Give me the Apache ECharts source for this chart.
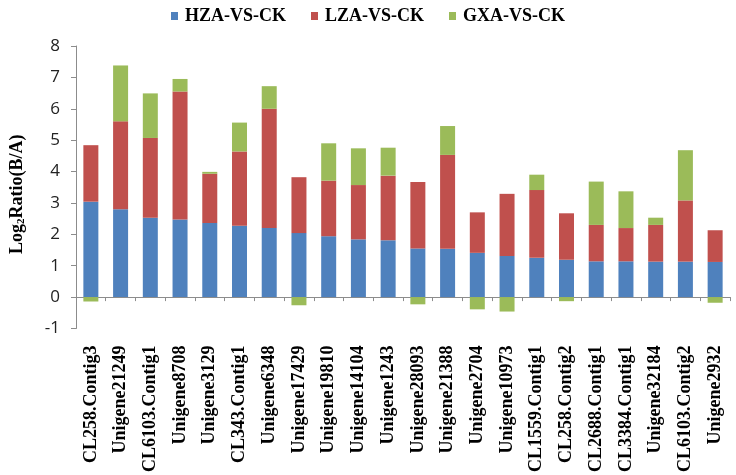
<!DOCTYPE html>
<html><head><meta charset="utf-8">
<script src="https://cdn.jsdelivr.net/npm/echarts@6/dist/echarts.min.js"></script>
<style>html,body{margin:0;padding:0;background:#fff}#c{width:736px;height:475px}</style>
</head><body><div id="c"></div>
<script>
var categories = ["CL258.Contig3","Unigene21249","CL6103.Contig1","Unigene8708","Unigene3129","CL343.Contig1","Unigene6348","Unigene17429","Unigene19810","Unigene14104","Unigene1243","Unigene28093","Unigene21388","Unigene2704","Unigene10973","CL1559.Contig1","CL258.Contig2","CL2688.Contig1","CL3384.Contig1","Unigene32184","CL6103.Contig2","Unigene2932"];
var hza = [3.04,2.8,2.53,2.47,2.36,2.27,2.2,2.04,1.94,1.84,1.81,1.55,1.54,1.41,1.31,1.25,1.19,1.14,1.14,1.13,1.13,1.12];
var lza = [1.8,2.8,2.54,4.08,1.57,2.37,3.8,1.78,1.77,1.73,2.06,2.12,2.99,1.29,1.98,2.16,1.48,1.16,1.06,1.17,1.95,1.01];
var gxa = [-0.14,1.78,1.42,0.4,0.06,0.92,0.72,-0.26,1.19,1.17,0.89,-0.23,0.92,-0.39,-0.46,0.49,-0.13,1.38,1.17,0.23,1.6,-0.18];
var seriesNames = ["HZA-VS-CK","LZA-VS-CK","GXA-VS-CK"];
var colors = ["#4F81BD","#C0504D","#9BBB59"];

var serif = "'Liberation Serif','Times New Roman',serif";
var chart = echarts.init(document.getElementById('c'), null, {renderer:'canvas'});
function mk(name, data, color){
  return {name:name, type:'bar', stack:'s', data:data, barWidth:15,
    itemStyle:{color:color}, animation:false};
}
chart.setOption({
  animation:false,
  color: colors,
  legend:{top:2, left:'center', itemWidth:7, itemHeight:8, itemGap:25,
    icon:'rect',
    textStyle:{fontFamily:serif, fontWeight:'bold', fontSize:18, color:'#000', padding:[0,0,0,2]},
    data:seriesNames},
  grid:{left:68, right:6, top:46, bottom:117},
  xAxis:{type:'category', data:categories,
    axisLine:{onZero:true, lineStyle:{color:'#8c8c8c', width:1}},
    axisTick:{show:true, length:4, lineStyle:{color:'#8c8c8c'}},
    axisLabel:{interval:0, rotate:90, margin:17, fontFamily:serif, fontWeight:'bold', fontSize:18, color:'#000'}},
  yAxis:{type:'value', min:-1, max:8, interval:1,
    name:'{a|Log}{s|2}{a|Ratio(B/A)}', nameLocation:'middle', nameGap:49, nameRotate:90,
    nameTextStyle:{padding:[0,14,0,0], rich:{
      a:{fontFamily:serif, fontWeight:'bold', fontSize:18, color:'#000', lineHeight:20},
      s:{fontFamily:serif, fontWeight:'bold', fontSize:11, color:'#000', verticalAlign:'bottom', lineHeight:8}
    }},
    splitLine:{show:false},
    axisLine:{show:true, lineStyle:{color:'#8c8c8c'}},
    axisTick:{show:true, inside:false, length:5, lineStyle:{color:'#8c8c8c'}},
    axisLabel:{margin:16, fontFamily:"'Open Sans',sans-serif", fontSize:17, color:'#222'}},
  series:[mk(seriesNames[0], hza, colors[0]), mk(seriesNames[1], lza, colors[1]), mk(seriesNames[2], gxa, colors[2])]
});
</script></body></html>
